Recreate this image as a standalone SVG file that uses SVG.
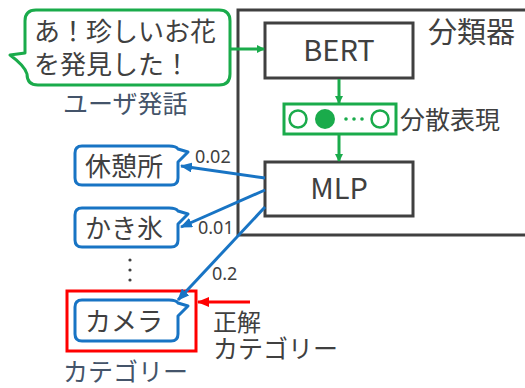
<svg xmlns="http://www.w3.org/2000/svg" width="525" height="388" viewBox="0 0 525 388">
<defs>
<style>
.t{font-family:"Noto Sans CJK JP","Noto Sans",sans-serif;fill:#404040}
.n{font-family:"Noto Sans","Noto Sans CJK JP",sans-serif;fill:#404040;font-size:18px}
.s{font-family:"Noto Sans CJK JP","Noto Sans",sans-serif;fill:#44546A}
.box{fill:#fff;stroke:#404040;stroke-width:3}
.g{stroke:#1AAB4B;stroke-width:3;fill:none}
.b{stroke:#1874C4;stroke-width:3;fill:none}
.bub{fill:#fff;stroke:#1874C4;stroke-width:3;stroke-linejoin:round}
</style>
<marker id="ag" markerWidth="8" markerHeight="8" refX="7" refY="4" orient="auto" markerUnits="userSpaceOnUse"><path d="M0,0 L8,4 L0,8 Z" fill="#1AAB4B"/></marker>
<marker id="ab" markerWidth="12" markerHeight="10" refX="11" refY="5" orient="auto" markerUnits="userSpaceOnUse"><path d="M0,0 L12,5 L0,10 Z" fill="#1874C4"/></marker>
<marker id="ar" markerWidth="12" markerHeight="10" refX="11" refY="5" orient="auto" markerUnits="userSpaceOnUse"><path d="M0,0 L12,5 L0,10 Z" fill="#FF0000"/></marker>
</defs>
<rect width="525" height="388" fill="#fff"/>

<g id="classifier">
<rect x="238" y="10" width="300" height="225" fill="none" stroke="#404040" stroke-width="3"/>
<text class="t" x="428" y="43" font-size="29">分類器</text>
</g>

<g id="utterance">
<path d="M36,10 H219 Q230,10 230,21 V74 Q230,85 219,85 H38 Q27,85 27,74 Q25,66 10,55 L25,53 V21 Q25,10 36,10 Z" fill="#fff" stroke="#1AAB4B" stroke-width="3" stroke-linejoin="round"/>
<text class="t" x="34" y="41" font-size="26">あ！珍しいお花</text>
<text class="t" x="34" y="74" font-size="26">を発見した！</text>
<text class="s" x="63" y="113" font-size="25">ユーザ発話</text>
</g>

<g id="bert">
<rect class="box" x="265" y="23" width="148" height="55"/>
<text class="t" x="339" y="61" font-size="29" text-anchor="middle">BERT</text>
</g>

<g id="vector">
<rect x="284" y="104" width="112" height="30" fill="#fff" stroke="#1AAB4B" stroke-width="3"/>
<circle cx="298" cy="119" r="8.5" fill="#fff" stroke="#1AAB4B" stroke-width="2.5"/>
<circle cx="325" cy="119" r="10" fill="#1AAB4B"/>
<circle cx="346" cy="119" r="1.8" fill="#1AAB4B"/>
<circle cx="354" cy="119" r="1.8" fill="#1AAB4B"/>
<circle cx="362" cy="119" r="1.8" fill="#1AAB4B"/>
<circle cx="380" cy="119" r="8.5" fill="#fff" stroke="#1AAB4B" stroke-width="2.5"/>
<text class="t" x="400" y="129" font-size="25">分散表現</text>
</g>

<g id="mlp">
<rect class="box" x="265" y="162" width="148" height="54"/>
<text class="t" x="339" y="199" font-size="29" text-anchor="middle">MLP</text>
</g>

<g id="cat1">
<path class="bub" d="M82,146 H169 Q176,146 178,149 L188,152 L178,162 V178 Q178,185 171,185 H82 Q75,185 75,178 V153 Q75,146 82,146 Z"/>
<text class="t" x="85" y="176" font-size="26">休憩所</text>
</g>

<g id="cat2">
<path class="bub" d="M82,208 H169 Q176,208 178,211 L188,214 L178,224 V240 Q178,247 171,247 H82 Q75,247 75,240 V215 Q75,208 82,208 Z"/>
<text class="t" x="85" y="238" font-size="26">かき氷</text>
</g>

<g id="dots">
<circle cx="130" cy="260" r="1.6" fill="#404040"/>
<circle cx="130" cy="270" r="1.6" fill="#404040"/>
<circle cx="130" cy="280" r="1.6" fill="#404040"/>
</g>

<g id="cat3">
<rect x="67" y="291" width="129" height="60" fill="none" stroke="#FF0000" stroke-width="3"/>
<path class="bub" d="M82,300 H169 Q176,300 178,303 L188,306 L178,316 V334 Q178,341 171,341 H82 Q75,341 75,334 V307 Q75,300 82,300 Z"/>
<text class="t" x="85" y="331" font-size="26">カメラ</text>
<text class="s" x="63" y="381" font-size="25">カテゴリー</text>
</g>

<g id="answer">
<text class="t" x="213" y="331" font-size="24">正解</text>
<text class="t" x="213" y="358" font-size="25">カテゴリー</text>
</g>

<g id="connectors">
<line class="g" x1="231" y1="49" x2="264" y2="49" marker-end="url(#ag)"/>
<line class="g" x1="339" y1="79" x2="339" y2="103" marker-end="url(#ag)"/>
<line class="g" x1="339" y1="135" x2="339" y2="161" marker-end="url(#ag)"/>
<line class="b" x1="265" y1="178" x2="181" y2="166" marker-end="url(#ab)"/>
<line class="b" x1="265" y1="190" x2="181" y2="227" marker-end="url(#ab)"/>
<line class="b" x1="265" y1="207" x2="178" y2="300" marker-end="url(#ab)"/>
<line x1="250" y1="302" x2="198" y2="302" stroke="#FF0000" stroke-width="3" marker-end="url(#ar)"/>
<text class="n" x="195" y="163">0.02</text>
<text class="n" x="198" y="234">0.01</text>
<text class="n" x="212" y="280">0.2</text>
</g>
</svg>
